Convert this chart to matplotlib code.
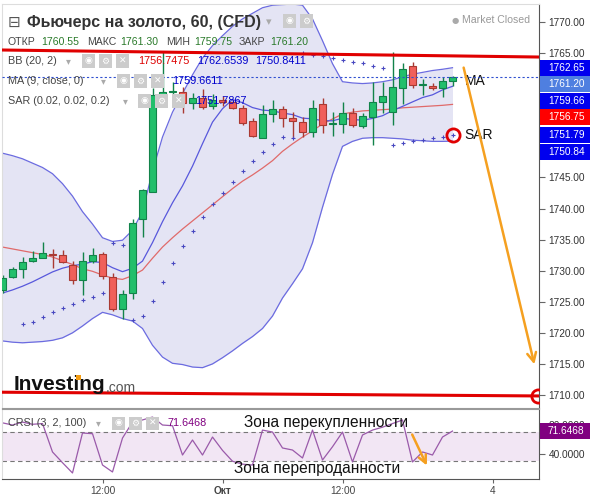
import matplotlib
matplotlib.use('Agg')
import matplotlib.pyplot as plt
from matplotlib.patches import Rectangle

plt.rcParams['font.family'] = ['Liberation Sans', 'DejaVu Sans']

W, H = 590, 496

# hourly candles, gold futures
opens = [1726.89, 1728.98, 1730.27, 1731.56, 1732.04, 1732.68, 1732.52, 1730.91, 1728.50, 1731.56,
         1732.68, 1728.98, 1723.84, 1726.41, 1738.31, 1742.66, 1757.94, 1758.74, 1758.74, 1756.97,
         1757.78, 1756.49, 1757.45, 1757.13, 1756.17, 1754.08, 1751.34, 1755.20, 1756.01, 1754.56,
         1753.92, 1752.31, 1756.81, 1753.59, 1753.59, 1755.36, 1753.27, 1754.72, 1757.13, 1755.52,
         1759.38, 1762.92, 1759.87, 1759.71, 1759.38, 1760.55]
closes = [1728.82, 1730.27, 1731.40, 1732.04, 1732.84, 1732.52, 1731.40, 1728.50, 1731.56, 1732.52,
          1729.14, 1723.84, 1726.25, 1737.67, 1742.98, 1758.26, 1758.74, 1758.90, 1756.97, 1757.78,
          1756.33, 1757.45, 1757.13, 1756.17, 1753.75, 1751.66, 1755.20, 1756.01, 1754.56, 1754.08,
          1752.31, 1756.17, 1753.43, 1753.59, 1755.36, 1753.43, 1754.88, 1757.13, 1758.10, 1759.54,
          1762.44, 1759.87, 1759.87, 1759.38, 1760.51, 1761.20]
highs = [1729.30, 1730.59, 1732.20, 1733.17, 1734.61, 1733.49, 1733.33, 1731.56, 1733.00, 1733.65,
         1733.00, 1729.63, 1726.89, 1738.31, 1743.14, 1759.38, 1765.17, 1760.35, 1759.54, 1758.58,
         1759.22, 1758.42, 1758.10, 1757.45, 1756.65, 1754.56, 1756.65, 1757.45, 1756.49, 1755.52,
         1754.72, 1757.45, 1757.78, 1755.52, 1757.13, 1756.17, 1755.36, 1760.35, 1760.35, 1765.17,
         1763.41, 1763.57, 1760.83, 1760.19, 1761.15, 1761.30]
lows = [1726.41, 1728.82, 1728.82, 1731.40, 1732.04, 1730.43, 1731.24, 1727.86, 1726.09, 1731.24,
        1728.66, 1723.51, 1722.23, 1725.45, 1735.42, 1742.66, 1757.45, 1757.45, 1755.36, 1756.01,
        1756.01, 1756.01, 1756.50, 1756.01, 1753.43, 1751.50, 1751.34, 1753.92, 1753.11, 1751.34,
        1751.50, 1751.50, 1752.14, 1751.66, 1752.14, 1753.11, 1752.95, 1750.21, 1755.36, 1753.43,
        1756.81, 1759.38, 1758.26, 1759.06, 1757.94, 1759.75]

# Bollinger (20, 2)
bb_mid = [1733.8, 1733.5, 1733.2, 1732.9, 1732.6, 1732.2, 1731.6, 1731.0, 1730.3, 1729.9,
          1729.3, 1728.8, 1728.6, 1729.2, 1730.1, 1732.0, 1733.8, 1735.3, 1736.7, 1738.0,
          1739.3, 1740.6, 1741.9, 1743.2, 1744.4, 1745.4, 1746.5, 1747.7, 1749.2, 1750.4,
          1751.5, 1752.5, 1753.6, 1754.4, 1755.2, 1755.5, 1755.7, 1755.8, 1755.9, 1756.0,
          1756.2, 1756.3, 1756.4, 1756.5, 1756.6, 1756.75]
bb_up = [1748.9, 1748.5, 1748.0, 1747.3, 1746.6, 1745.6, 1744.0, 1742.0, 1739.5, 1737.5,
         1735.3, 1734.7, 1734.9, 1736.5, 1739.5, 1746.0, 1751.5, 1755.5, 1758.5, 1761.5,
         1764.2, 1766.2, 1767.8, 1769.3, 1770.5, 1771.4, 1772.3, 1772.7, 1772.8, 1772.9,
         1772.7, 1770.5, 1767.0, 1763.3, 1760.4, 1760.2, 1760.1, 1760.2, 1760.4, 1760.7,
         1761.2, 1761.6, 1761.9, 1762.2, 1762.4, 1762.65]
bb_low = [1718.7, 1718.5, 1718.4, 1718.5, 1718.6, 1718.8, 1719.2, 1720.0, 1721.1, 1722.3,
          1723.3, 1722.9, 1722.3, 1721.9, 1720.7, 1718.0, 1716.1, 1715.1, 1714.9, 1714.5,
          1714.4, 1715.0, 1716.0, 1717.1, 1718.3, 1719.4, 1720.7, 1722.7, 1725.6, 1727.9,
          1730.3, 1734.5, 1740.2, 1745.5, 1750.0, 1750.8, 1751.3, 1751.4, 1751.4, 1751.3,
          1751.2, 1751.0, 1750.9, 1750.8, 1750.8, 1750.84]
# MA (9, close)
ma9 = [1726.4, 1726.9, 1727.5, 1728.2, 1729.0, 1729.8, 1730.4, 1730.8, 1731.04, 1731.45,
       1731.32, 1730.48, 1729.84, 1730.38, 1731.54, 1734.52, 1737.88, 1740.92, 1743.64, 1746.82,
       1750.43, 1753.90, 1756.06, 1757.53, 1757.02, 1756.24, 1755.83, 1755.72, 1755.36, 1755.11,
       1754.54, 1754.43, 1754.13, 1754.11, 1754.52, 1754.33, 1754.20, 1754.49, 1754.93, 1755.74,
       1756.43, 1757.15, 1757.85, 1758.29, 1759.08, 1759.66]
# parabolic SAR, starts at candle 2
sar_start = 2
sar = [1721.42, 1721.74, 1722.55, 1723.35, 1724.00, 1724.64, 1725.28, 1725.77, 1726.41,
       1734.45, 1734.13,
       1722.07, 1722.71, 1725.12, 1728.18, 1731.24, 1733.97, 1736.38, 1738.63, 1740.72,
       1742.49, 1744.26, 1746.03, 1747.64, 1749.09, 1750.38, 1751.50, 1751.34,
       1765.01, 1764.69, 1764.53, 1764.21, 1763.89, 1763.57, 1763.41, 1762.92, 1762.60,
       1750.21, 1750.54, 1750.86, 1751.02, 1751.34, 1751.50, 1751.79]
# CRSI (3, 2, 100)
crsi = [83, 80, 84, 81, 82, 42.8, 28, 13.8, 69, 68, 24.8, 15.2, 62, 84, 87, 91, 80, 79, 38.6, 59.3,
        38.6, 63.4, 45, 30, 26, 24.8, 73, 70.3, 48.3, 45.5, 34.5, 73, 31.7, 50, 70.3, 29, 66.2, 73,
        77, 82, 86.9, 29, 42.8, 38.6, 63.4, 71.6468]

# drawn annotations
resist_x = [-0.05, 53.65]
resist_y = [1765.5, 1764.37]
support_x = [-0.05, 53.55]
support_y = [1710.45, 1709.85]
arrow_main = [(46.05, 1763.1), (53.25, 1714.5)]
arrow_crsi = [(40.85, 70.3), (42.55, 20.7)]

xtick_pos = [10, 22, 34, 49]
xtick_lab = ['12:00', 'Окт', '12:00', '4']
price_ticks = [1710, 1715, 1720, 1725, 1730, 1735, 1740, 1745, 1765, 1770]

UP, UP_E = '#22bf6b', '#12834a'
DN, DN_E = '#f0605a', '#a93a33'
BAND = '#6b6be0'


def fx(x):
    return x / W


def fy(y):
    return 1 - y / H


fig = plt.figure(figsize=(W / 100, H / 100), dpi=100)
ax = fig.add_axes([fx(2), fy(408), fx(539) - fx(2), fy(4) - fy(408)])
ax2 = fig.add_axes([fx(2), fy(479), fx(539) - fx(2), fy(409) - fy(479)])
idx = list(range(len(closes)))

ax.set_xlim(-0.05, 53.65)
ax.set_ylim(1707.91, 1772.9)

ax.fill_between(idx, bb_low, bb_up, color='#e4e4f4', lw=0, zorder=0)
ax.plot(idx, bb_up, color=BAND, lw=0.9, zorder=1)
ax.plot(idx, bb_low, color=BAND, lw=0.9, zorder=1)
ax.plot(idx, bb_mid, color='#e06a6a', lw=0.9, zorder=1)
ax.plot(idx, ma9, color='#5858dc', lw=0.9, zorder=1)

for i in idx:
    o, c = opens[i], closes[i]
    up = c >= o
    fc, ec = (UP, UP_E) if up else (DN, DN_E)
    ax.vlines(i, lows[i], highs[i], color=ec, lw=1, zorder=2)
    h = max(abs(c - o), 0.15)
    ax.add_patch(Rectangle((i - 0.33, min(o, c)), 0.66, h, facecolor=fc, edgecolor=ec, lw=0.8, zorder=3))

ax.scatter(range(sar_start, sar_start + len(sar)), sar, marker='+', s=9, color='#4848c0', lw=0.8, zorder=4)
ax.axhline(closes[-1], color='#3050d0', lw=0.8, ls=(0, (2, 2)), zorder=4)

ax.plot(resist_x, resist_y, color='#e00000', lw=2.2, zorder=5)
ax.plot(support_x, support_y, color='#e00000', lw=2.2, zorder=5)
ax.plot(support_x[-1], support_y[-1], 'o', ms=9.5, mfc='none', mec='#e00000', mew=2, zorder=5)
ax.plot(len(sar) + sar_start - 1, sar[-1], 'o', ms=9.5, mfc='none', mec='#e00000', mew=2, zorder=5)
ax.annotate('', xy=arrow_main[1], xytext=arrow_main[0],
            arrowprops=dict(arrowstyle='->', color='#f5a020', lw=1.8, mutation_scale=16), zorder=6)
ax.text(46.2, ma9[-1] + 0.8, 'MA', fontsize=10, va='center', color='#111')
ax.text(46.2, sar[-1], 'SAR', fontsize=10, va='center', color='#111')

ax.yaxis.tick_right()
ax.set_yticks(price_ticks)
ax.set_yticklabels(['%.2f' % v for v in price_ticks])
ax.tick_params(axis='y', direction='out', length=4, width=0.8, color='#666', pad=3, labelsize=7.3, labelcolor='#333')
ax.tick_params(axis='x', bottom=False, labelbottom=False)
for s in ['left', 'top']:
    ax.spines[s].set_color('#dddddd')
ax.spines['bottom'].set_color('#999999')
ax.spines['right'].set_color('#555555')

# CRSI panel
ax2.set_xlim(-0.05, 53.65)
ax2.set_ylim(5.5, 102.1)
ax2.axhspan(30, 70, color='#f2e6f4', lw=0, zorder=0)
ax2.axhline(70, color='#777777', lw=0.8, ls=(0, (4, 3)))
ax2.axhline(30, color='#777777', lw=0.8, ls=(0, (4, 3)))
ax2.plot(idx, crsi, color='#9a5aaa', lw=0.9)
ax2.annotate('', xy=arrow_crsi[1], xytext=arrow_crsi[0],
             arrowprops=dict(arrowstyle='->', color='#f5a020', lw=1.8, mutation_scale=14))
ax2.text(32.4, 83, 'Зона перекупленности', fontsize=11.2, va='center', ha='center', color='#111')
ax2.text(31.5, 19.5, 'Зона перепроданности', fontsize=11.2, va='center', ha='center', color='#111')
ax2.yaxis.tick_right()
ax2.set_yticks([40, 80])
ax2.set_yticklabels(['40.0000', '80.0000'])
ax2.set_xticks(xtick_pos)
ax2.set_xticklabels(xtick_lab)
ax2.get_xticklabels()[1].set_fontweight('bold')
ax2.tick_params(axis='y', direction='out', length=4, width=0.8, color='#666', pad=3, labelsize=7.3, labelcolor='#333')
ax2.tick_params(axis='x', direction='out', length=3, width=0.8, color='#666', pad=2, labelsize=7.3, labelcolor='#444')
ax2.spines['left'].set_color('#dddddd')
ax2.spines['top'].set_color('#999999')
ax2.spines['bottom'].set_color('#555555')
ax2.spines['right'].set_color('#555555')


def price_box(yc, text, color):
    fig.add_artist(Rectangle((fx(540), fy(yc + 8)), 50 / W, 16 / H, transform=fig.transFigure,
                             facecolor=color, edgecolor='none', zorder=5))
    fig.text(fx(548), fy(yc), text, color='white', fontsize=7.3, va='center', ha='left', zorder=6)


# stacked value labels on the price scale
boxes = [(bb_up[-1], '#0000ee'), (closes[-1], '#4f7fe0'), (ma9[-1], '#0000ee'),
         (bb_mid[-1], '#ff0000'), (sar[-1], '#0000ee'), (bb_low[-1], '#0000ee')]
prev = -100
for v, col in sorted(boxes, key=lambda b: -b[0]):
    ypix = H - ax.transData.transform((0, v))[1]
    ypix = max(ypix, prev + 16.5)
    prev = ypix
    price_box(ypix, '%.2f' % v, col)
ypix = H - ax2.transData.transform((0, crsi[-1]))[1]
price_box(ypix, '%.4f' % crsi[-1], '#800080')


def icons(x0, y, n):
    glyphs = ['◉', '⚙', '✕']
    for k in range(n):
        x = x0 + k * 17
        fig.add_artist(Rectangle((fx(x), fy(y + 6.5)), 13 / W, 13 / H, transform=fig.transFigure,
                                 facecolor='#cccccc', edgecolor='none', zorder=3))
        fig.text(fx(x + 6.5), fy(y), glyphs[k], color='white', fontsize=6.5, ha='center', va='center',
                 family='DejaVu Sans', zorder=4)


def tx(x, y, s, color='#444444', size=7.8, **kw):
    return fig.text(fx(x), fy(y), s, color=color, fontsize=size, va='center', ha='left', **kw)


# header
tx(8, 22, '⊟', '#555555', 11, family='DejaVu Sans')
tx(27, 22, 'Фьючерс на золото, 60, (CFD)', '#333333', 11.5, fontweight='bold')
tx(266, 22, '▾', '#aaaaaa', 8, family='DejaVu Sans')
icons(283, 21, 2)
tx(452, 20, '●', '#aaaaaa', 6, family='DejaVu Sans')
tx(462, 20, 'Market Closed', '#999999', 7.6)

green = '#2a7a2a'
tx(8, 42, 'ОТКР', size=7.6)
tx(41, 42, '1760.55', green, 7.6)
tx(87, 42, 'МАКС', size=7.6)
tx(120, 42, '1761.30', green, 7.6)
tx(166, 42, 'МИН', size=7.6)
tx(194, 42, '1759.75', green, 7.6)
tx(239, 42, 'ЗАКР', size=7.6)
tx(270, 42, '1761.20', green, 7.6)

tx(8, 61, 'BB (20, 2)')
tx(66, 61, '▾', '#aaaaaa', 7, family='DejaVu Sans')
icons(82, 61, 3)
tx(138, 61, '1756.7475', '#dd0000')
tx(197, 61, '1762.6539', '#0000cc')
tx(255, 61, '1750.8411', '#0000cc')

tx(8, 81, 'MA (9, close, 0)')
tx(101, 81, '▾', '#aaaaaa', 7, family='DejaVu Sans')
icons(117, 81, 3)
tx(172, 81, '1759.6611', '#0000cc')

tx(8, 101, 'SAR (0.02, 0.02, 0.2)')
tx(123, 101, '▾', '#aaaaaa', 7, family='DejaVu Sans')
icons(138, 101, 3)
tx(195, 101, '1751.7867', '#0000cc')

tx(8, 423, 'CRSI (3, 2, 100)')
tx(96, 423, '▾', '#aaaaaa', 7, family='DejaVu Sans')
icons(112, 423, 3)
tx(167, 423, '71.6468', '#800080')

# logo
tx(14, 385, 'Investing', '#111111', 15, fontweight='bold')
tx(106, 388, '.com', '#555555', 10)
fig.add_artist(Rectangle((fx(75.5), fy(380)), 5 / W, 5 / H, transform=fig.transFigure,
                         facecolor='#f39c12', edgecolor='none', zorder=5))

fig.savefig('out.png', dpi=100)
